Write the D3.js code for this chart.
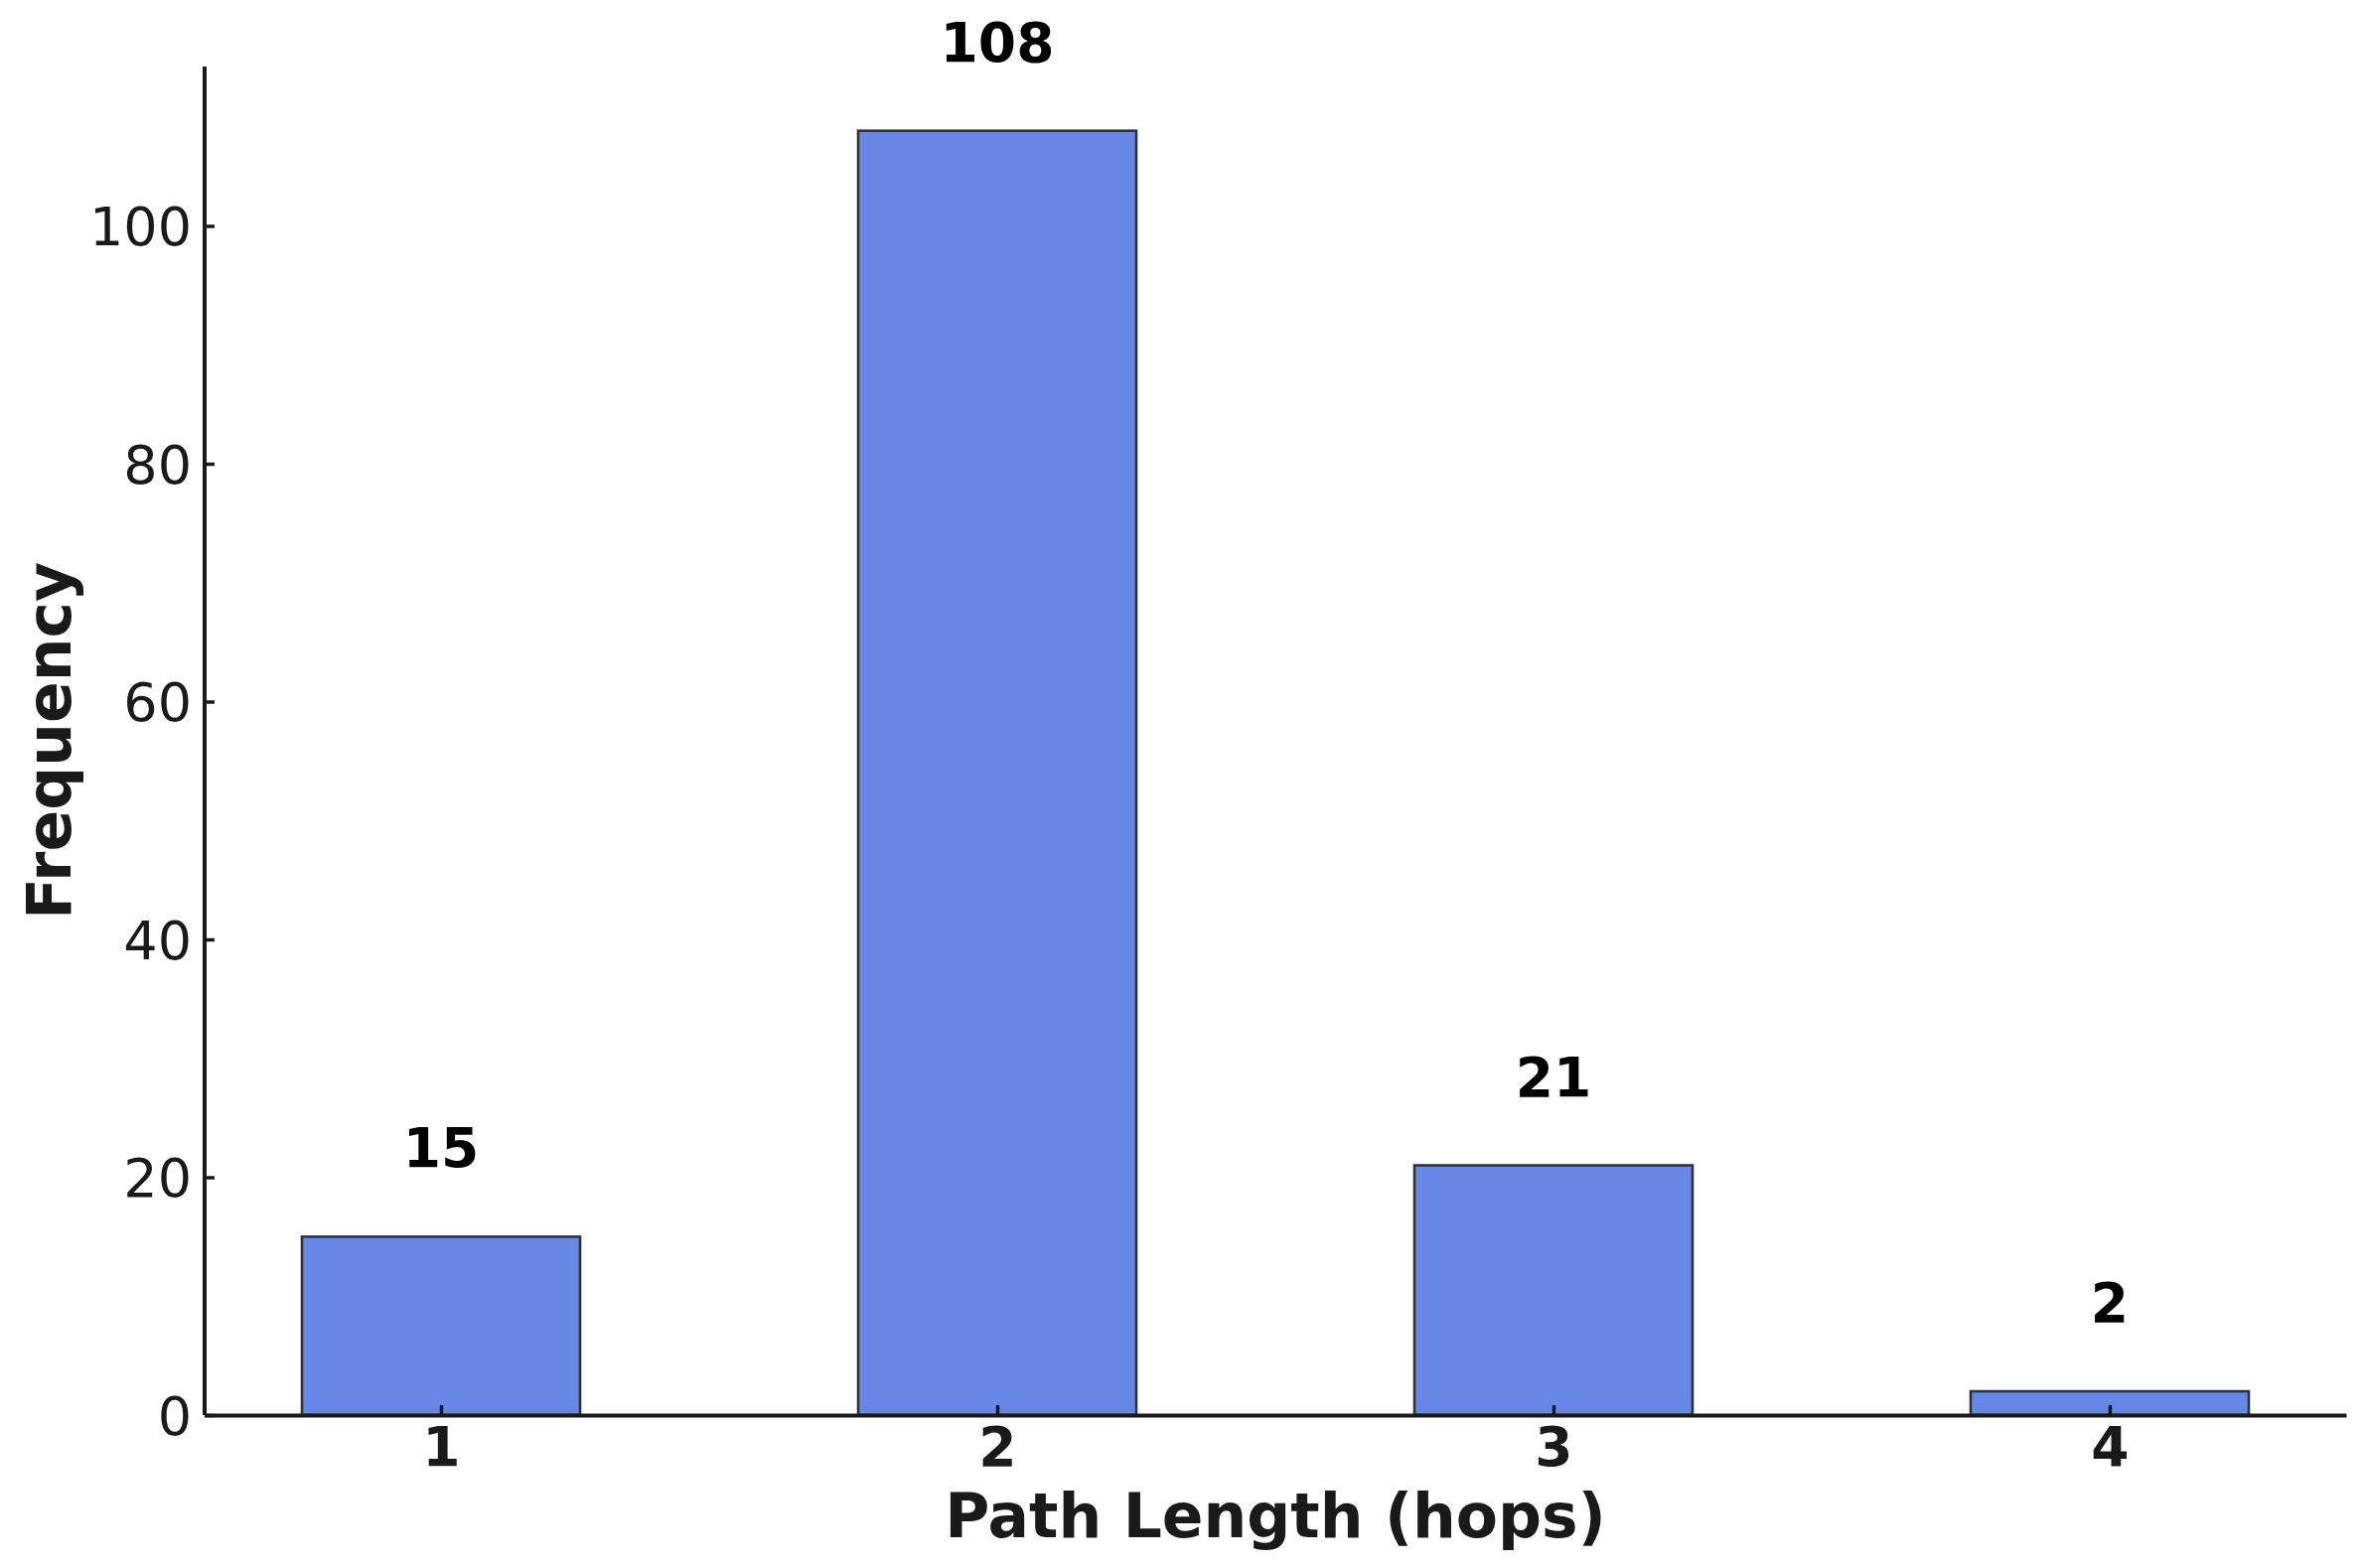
<!DOCTYPE html>
<html>
<head>
<meta charset="utf-8">
<script src="https://cdn.jsdelivr.net/npm/d3@7"></script>
<style>
  body { margin: 0; background: #fff; }
  svg { display: block; font-family: "DejaVu Sans", sans-serif; }
</style>
</head>
<body>
<div id="chart"></div>
<script>
// data
var hops = [1, 2, 3, 4];
var freq = [15, 108, 21, 2];
var yTicks = [0, 20, 40, 60, 80, 100];

var W = 2379, H = 1579;
var margin = { left: 206, right: 17, top: 67, bottom: 154 };

var svg = d3.select("#chart").append("svg")
  .attr("width", W)
  .attr("height", H);

// matplotlib style limits: bars 0.5 wide, 5% margin each side
var barW = 0.5;
var xMin = hops[0] - barW / 2, xMax = hops[hops.length - 1] + barW / 2;
var pad = (xMax - xMin) * 0.05;

var x = d3.scaleLinear()
  .domain([xMin - pad, xMax + pad])
  .range([margin.left, W - margin.right]);

var y = d3.scaleLinear()
  .domain([0, d3.max(freq) * 1.05])
  .range([H - margin.bottom, margin.top]);

// bars
svg.selectAll("rect.bar")
  .data(hops)
  .enter().append("rect")
  .attr("class", "bar")
  .attr("x", function (d) { return x(d - barW / 2); })
  .attr("width", function (d) { return x(d + barW / 2) - x(d - barW / 2); })
  .attr("y", function (d, i) { return y(freq[i]); })
  .attr("height", function (d, i) { return y(0) - y(freq[i]); })
  .attr("fill", "#6787e7")
  .attr("stroke", "#333")
  .attr("stroke-width", 2.6);

// value labels above bars
svg.selectAll("text.val")
  .data(hops)
  .enter().append("text")
  .attr("class", "val")
  .attr("x", function (d) { return x(d); })
  .attr("y", function (d, i) { return y(freq[i]) - 70; })
  .attr("text-anchor", "middle")
  .attr("font-size", 55)
  .attr("font-weight", "bold")
  .attr("fill", "#000")
  .text(function (d, i) { return freq[i]; });

// y axis
var yAxis = svg.append("g")
  .attr("transform", "translate(" + margin.left + ",0)")
  .call(d3.axisLeft(y).tickValues(yTicks).tickSize(-10).tickSizeOuter(0).tickPadding(13));

// x axis
var xAxis = svg.append("g")
  .attr("transform", "translate(0," + y(0) + ")")
  .call(d3.axisBottom(x).tickValues(hops).tickFormat(d3.format("d")).tickSize(-10).tickSizeOuter(0).tickPadding(12));

[yAxis, xAxis].forEach(function (g) {
  g.select(".domain").attr("stroke", "#1a1a1a").attr("stroke-width", 4);
  g.selectAll(".tick line").attr("stroke", "#1a1a1a").attr("stroke-width", 3.5);
  g.selectAll(".tick text")
    .attr("fill", "#1a1a1a")
    .attr("font-size", 54)
    .attr("font-family", "DejaVu Sans, sans-serif");
});
yAxis.selectAll(".tick text").attr("dy", "0.36em");
xAxis.selectAll(".tick text").attr("font-weight", "bold").attr("font-size", 55);

// left spine runs to the top of the plot
yAxis.select(".domain").attr("d", "M0," + y(0) + "V" + margin.top);

// axis titles
svg.append("text")
  .attr("x", (margin.left + W - margin.right) / 2)
  .attr("y", 1548)
  .attr("text-anchor", "middle")
  .attr("font-size", 61.5)
  .attr("font-weight", "bold")
  .attr("fill", "#1a1a1a")
  .text("Path Length (hops)");

svg.append("text")
  .attr("transform", "translate(71," + (margin.top + H - margin.bottom) / 2 + ") rotate(-90)")
  .attr("text-anchor", "middle")
  .attr("font-size", 61.5)
  .attr("font-weight", "bold")
  .attr("fill", "#1a1a1a")
  .text("Frequency");
</script>
</body>
</html>
